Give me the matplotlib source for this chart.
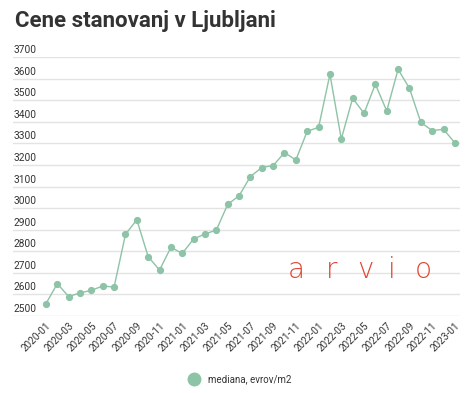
import matplotlib
matplotlib.use("Agg")
import matplotlib.pyplot as plt
from matplotlib.lines import Line2D

months = ["2020-01","2020-02","2020-03","2020-04","2020-05","2020-06","2020-07","2020-08","2020-09","2020-10","2020-11","2020-12",
          "2021-01","2021-02","2021-03","2021-04","2021-05","2021-06","2021-07","2021-08","2021-09","2021-10","2021-11","2021-12",
          "2022-01","2022-02","2022-03","2022-04","2022-05","2022-06","2022-07","2022-08","2022-09","2022-10","2022-11","2022-12",
          "2023-01"]
values = [2557, 2650, 2590, 2607, 2619, 2639, 2634, 2878, 2946, 2775, 2713, 2818,
          2790, 2857, 2880, 2898, 3017, 3057, 3146, 3188, 3197, 3257, 3223, 3356,
          3374, 3620, 3320, 3509, 3439, 3574, 3450, 3643, 3555, 3397, 3359, 3365,
          3302]
yticks = [2500, 2600, 2700, 2800, 2900, 3000, 3100, 3200, 3300, 3400, 3500, 3600, 3700]
title = "Cene stanovanj v Ljubljani"
series_name = "mediana, evrov/m2"

plt.rcParams['font.family'] = ['Roboto', 'DejaVu Sans']
W, H = 474, 393
fig = plt.figure(figsize=(W/100, H/100), dpi=100)
fig.patch.set_facecolor('white')

left, right, top, bottom = 13, 460, 57, 316
ax = fig.add_axes([left/W, 1-bottom/H, (right-left)/W, (bottom-top)/H])
ax.set_facecolor('white')
green = '#8dc3a6'
x = list(range(len(values)))
ax.plot(x, values, color=green, lw=1.0, marker='o', ms=4.2, mec=green, mfc=green, clip_on=False, zorder=3)

ax.set_ylim(2500, 3700)
ax.set_xlim(-2.9, 36.45)
ax.set_yticks(yticks)
ax.set_yticklabels([])
ax.tick_params(axis='y', length=0)
ax.grid(axis='y', color='#e3e3e3', lw=1)
ax.set_axisbelow(True)
for s in ax.spines.values():
    s.set_visible(False)
for v in yticks:
    ax.text(0.002, v + 9, str(v), transform=ax.get_yaxis_transform(), ha='left', va='bottom',
            fontsize=7.3, color='#333333')

ax.set_xticks(x[::2])
ax.set_xticklabels(months[::2], rotation=45, ha='right', rotation_mode='anchor', fontsize=7.2, color='#333333')
ax.tick_params(axis='x', length=0, pad=3)

fig.text(15/W, 1-21/H, title, fontsize=16, fontweight='bold', color='#333333', ha='left', va='center')

# watermark
red = '#e0452f'
for ch, cx in zip("arvio", [296, 332, 365, 392, 423]):
    fig.text(cx/W, 1-278/H, ch, fontsize=20, fontweight='light', color=red, ha='center', va='baseline',
             family=['DejaVu Sans'])

# legend
h = Line2D([], [], marker='o', ls='none', color=green, ms=9)
fig.legend([h], [series_name], loc='center', bbox_to_anchor=(238/W, 1-379/H), frameon=False,
           fontsize=7.0, handletextpad=0.4, labelcolor='#333333')

fig.savefig('out.png', dpi=100, facecolor='white')
